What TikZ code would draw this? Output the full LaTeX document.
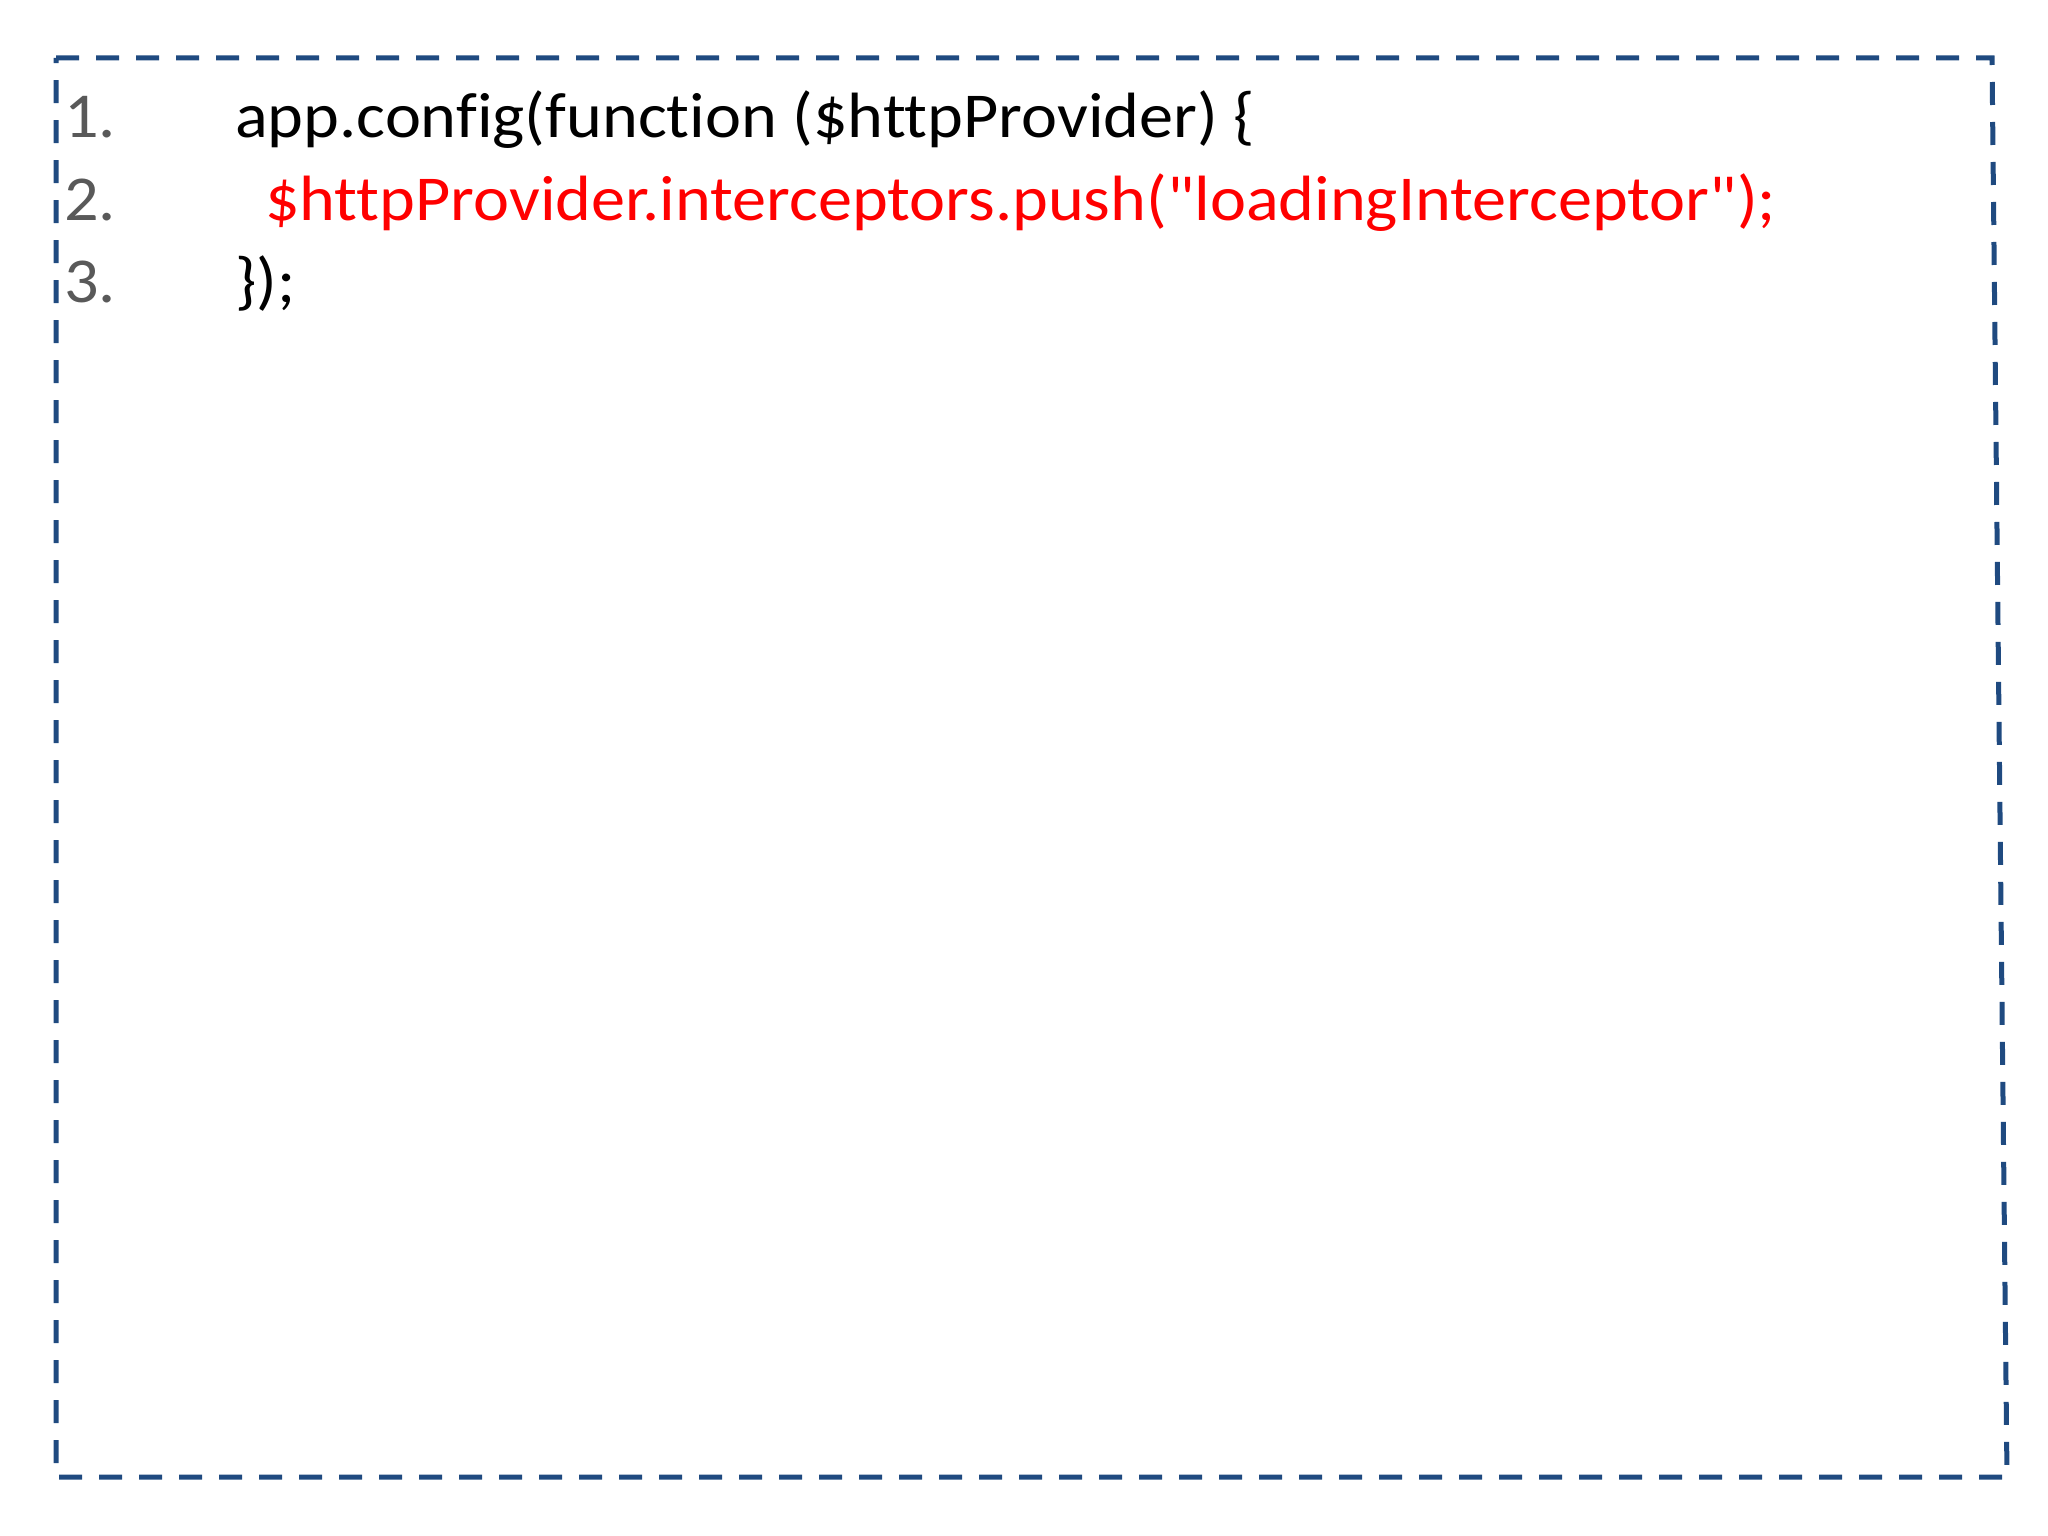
\documentclass[tikz,border=0pt]{standalone}
\usepackage{fontspec}
\setmainfont{Carlito}[Ligatures={NoCommon,TeXOff}, FakeStretch=1.066]
\usepackage{tikz}
\definecolor{frameblue}{RGB}{31,74,128}
\definecolor{numgray}{RGB}{89,89,89}
\definecolor{codered}{RGB}{255,0,0}
\tikzset{every picture/.append style={x=1pt, y=-1pt}}
\tikzset{codeline/.style={anchor=base west, inner sep=0pt, font=\fontsize{64}{76}\selectfont}}
\tikzset{linenum/.style={codeline, text=numgray}}
\tikzset{frame/.style={frameblue, line width=5pt, dash pattern=on 23pt off 17pt}}

\begin{document}
\begin{tikzpicture}
\useasboundingbox (0,0) rectangle (2048,1536);
\coordinate (tl) at (56,58);
\coordinate (tr) at (1992,58);
\coordinate (br) at (2007,1477);
\coordinate (bl) at (56,1477);
\draw[frame] (tl) -- (tr) -- (br) -- (bl) -- cycle;
% line numbers
\node (n1) at (64,138)[linenum]{1.};
\node (n2) at (64,220)[linenum]{2.};
\node (n3) at (64,302)[linenum]{3.};
\node (l1) at (235,138)[codeline]{app.config(function (\$httpProvider) \{};
\node (l2) at (265,220)[codeline, text=codered]{\$httpProvider.interceptors.push("loadingInterceptor");};
\node (l3) at (235,302)[codeline]{\});};
\end{tikzpicture}
\end{document}
